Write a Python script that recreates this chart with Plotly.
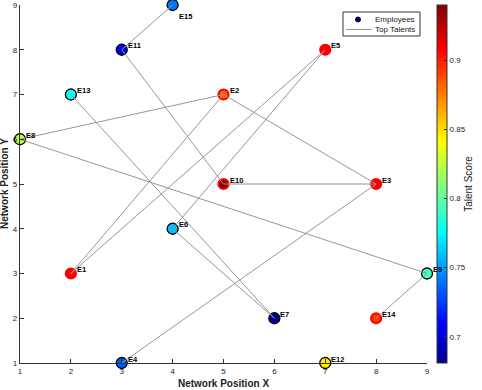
import plotly.graph_objects as go

names = ["E1","E2","E3","E4","E5","E6","E7","E8","E9","E10","E11","E12","E13","E14","E15"]
pos_x = [2, 5, 8, 3, 7, 4, 6, 1, 9, 5, 3, 7, 2, 8, 4]
pos_y = [3, 7, 5, 1, 8, 4, 2, 6, 3, 5, 8, 1, 7, 2, 9]
talent = [0.908, 0.882, 0.910, 0.733, 0.909, 0.759, 0.681, 0.824, 0.793, 0.940,
          0.707, 0.846, 0.777, 0.893, 0.741]
links = [("E15","E11"), ("E11","E10"), ("E13","E7"), ("E8","E2"), ("E8","E9"),
         ("E2","E3"), ("E2","E1"), ("E5","E1"), ("E5","E6"), ("E6","E7"),
         ("E10","E3"), ("E3","E4"), ("E9","E14")]
top_threshold = 0.86
legend_labels = ["Employees", "Top Talents"]

jet = [[0.0, "rgb(0,0,143)"], [0.11, "rgb(0,0,255)"], [0.365, "rgb(0,255,255)"],
       [0.62, "rgb(255,255,0)"], [0.873, "rgb(255,0,0)"], [1.0, "rgb(128,0,0)"]]

FONT = "Liberation Sans"
idx = {n: i for i, n in enumerate(names)}
lx, ly = [], []
for a, b in links:
    lx += [pos_x[idx[a]], pos_x[idx[b]], None]
    ly += [pos_y[idx[a]], pos_y[idx[b]], None]

edge_col = ["rgb(255,0,0)" if t > top_threshold else "black" for t in talent]
edge_w = [2.2 if t > top_threshold else 1.3 for t in talent]
sizes = [10 if t > top_threshold else 11 for t in talent]

fig = go.Figure()
fig.add_trace(go.Scatter(
    x=pos_x, y=pos_y, mode="markers", name=legend_labels[0], showlegend=False, cliponaxis=False,
    marker=dict(size=sizes, opacity=1, color=talent, colorscale=jet,
                cmin=min(talent), cmax=max(talent),
                line=dict(color=edge_col, width=edge_w),
                colorbar=dict(x=1.024, xanchor="left", y=0.5, yanchor="middle",
                              len=1.0, lenmode="fraction", thickness=10,
                              outlinecolor="#333", outlinewidth=1,
                              bgcolor="rgba(0,0,0,0)", xpad=0, ypad=0,
                              tickvals=[0.7, 0.75, 0.8, 0.85, 0.9],
                              ticks="inside", ticklen=3, tickcolor="#333",
                              tickfont=dict(family=FONT, size=8, color="#222"),
                              title=dict(text="Talent Score", side="right",
                                         font=dict(family=FONT, size=10, color="#222")))),
))
fig.add_trace(go.Scatter(
    x=lx, y=ly, mode="lines", name=legend_labels[1], showlegend=False,
    line=dict(color="rgb(150,150,150)", width=1), cliponaxis=False,
))

for n, x, y in zip(names, pos_x, pos_y):
    below = (n == "E15")
    fig.add_annotation(x=x, y=y, text="<b>" + n + "</b>", showarrow=False,
                       xanchor="left", yanchor="middle",
                       xshift=4, yshift=(-11 if below else 4),
                       font=dict(family=FONT, size=7.5, color="black"))

# legend box (drawn manually to match the compact original)
fig.add_shape(type="rect", xref="paper", yref="paper",
              x0=0.7936, x1=0.9828, y0=0.9134, y1=0.9804,
              line=dict(color="#333", width=1), fillcolor="white", layer="above")
fig.add_shape(type="circle", xref="paper", yref="paper", xsizemode="pixel", ysizemode="pixel",
              xanchor=0.8305, yanchor=0.9595, x0=-2.5, x1=2.5, y0=-2.5, y1=2.5,
              line=dict(color="rgb(0,0,90)", width=1), fillcolor="rgb(0,0,100)", layer="above")
fig.add_shape(type="line", xref="paper", yref="paper",
              x0=0.801, x1=0.865, y0=0.9316, y1=0.9316,
              line=dict(color="rgb(150,150,150)", width=1), layer="above")
for lab, yy in zip(legend_labels, [0.9595, 0.9316]):
    fig.add_annotation(x=0.867, y=yy, xref="paper", yref="paper", text=lab, showarrow=False,
                       xanchor="left", yanchor="middle",
                       font=dict(family=FONT, size=8, color="#222"))

fig.add_annotation(x=0, y=0.5, xref="paper", yref="paper", xanchor="center", yanchor="middle",
                   text="<b>Network Position Y</b>", textangle=-90, showarrow=False,
                   font=dict(family=FONT, size=10, color="#222"),
                   xshift=-16)

fig.update_layout(
    width=482, height=390,
    margin=dict(l=20, r=55, t=5, b=27, autoexpand=False),
    plot_bgcolor="white", paper_bgcolor="white",
    font=dict(family=FONT, size=8, color="#222"),
    showlegend=False,
    xaxis=dict(range=[1, 9], tickvals=list(range(1, 10)), showgrid=False, zeroline=False,
               showline=True, linecolor="#333", linewidth=1.2, ticks="inside", ticklen=4,
               tickcolor="#333",
               title=dict(text="<b>Network Position X</b>", standoff=5,
                          font=dict(family=FONT, size=10, color="#222"))),
    yaxis=dict(range=[1, 9], tickvals=list(range(1, 10)), showgrid=False, zeroline=False,
               showline=True, linecolor="#333", linewidth=1.2, ticks="inside", ticklen=4,
               tickcolor="#333"),
)

fig.write_html("out.html", config={"displayModeBar": False},
               post_script="document.body.style.margin='0';")
